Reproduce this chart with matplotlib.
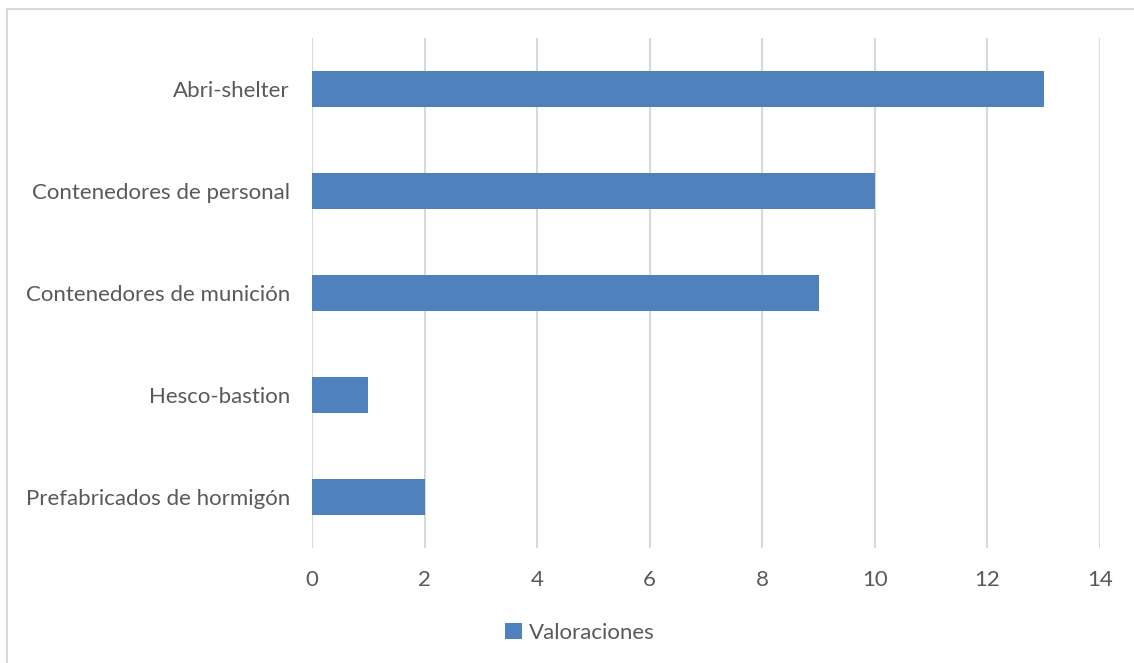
import matplotlib
matplotlib.use("Agg")
import matplotlib.pyplot as plt
from matplotlib.patches import Rectangle, Patch

categories = ["Prefabricados de hormigón", "Hesco-bastion", "Contenedores de munición",
              "Contenedores de personal", "Abri-shelter"]
valoraciones = [2, 1, 9, 10, 13]
xticks = [0, 2, 4, 6, 8, 10, 12, 14]
series_name = "Valoraciones"

W, H = 1134, 663
plt.rcParams['font.family'] = ['Lato', 'DejaVu Sans']
text_color = "#595959"
grid_color = "#D9D9D9"
bar_color = "#4F81BD"

fig = plt.figure(figsize=(W / 100, H / 100), dpi=100)
fig.patch.set_facecolor("white")

# chart border
fig.patches.append(Rectangle((7 / W, -0.05), 1.2, 1 - 9 / H + 0.05, transform=fig.transFigure,
                             fill=False, edgecolor=grid_color, linewidth=1.5, zorder=0))

ax = fig.add_axes([312 / W, 1 - 548 / H, (1100 - 312) / W, (548 - 38) / H])
ypos = list(range(len(categories)))
ax.barh(ypos, valoraciones, height=0.35, color=bar_color, zorder=3, label=series_name)

ax.set_xlim(0, 14)
ax.set_ylim(-0.5, len(categories) - 0.5)
ax.set_xticks(xticks)
ax.set_xticklabels([str(t) for t in xticks])
ax.set_yticks(ypos)
ax.set_yticklabels(categories)
ax.tick_params(axis='both', length=0, labelsize=16, labelcolor=text_color)
ax.tick_params(axis='x', pad=16)
ax.tick_params(axis='y', pad=16)
for s in ax.spines.values():
    s.set_visible(False)
ax.grid(axis='x', color=grid_color, linewidth=1.5, zorder=0)
ax.set_axisbelow(True)

handles = [Patch(facecolor=bar_color, label=series_name)]
fig.legend(handles=handles, loc='center', bbox_to_anchor=(580 / W, 1 - 633 / H),
           frameon=False, fontsize=16, labelcolor=text_color,
           handlelength=0.75, handleheight=0.75, handletextpad=0.3)

fig.savefig("out.png", dpi=100)
